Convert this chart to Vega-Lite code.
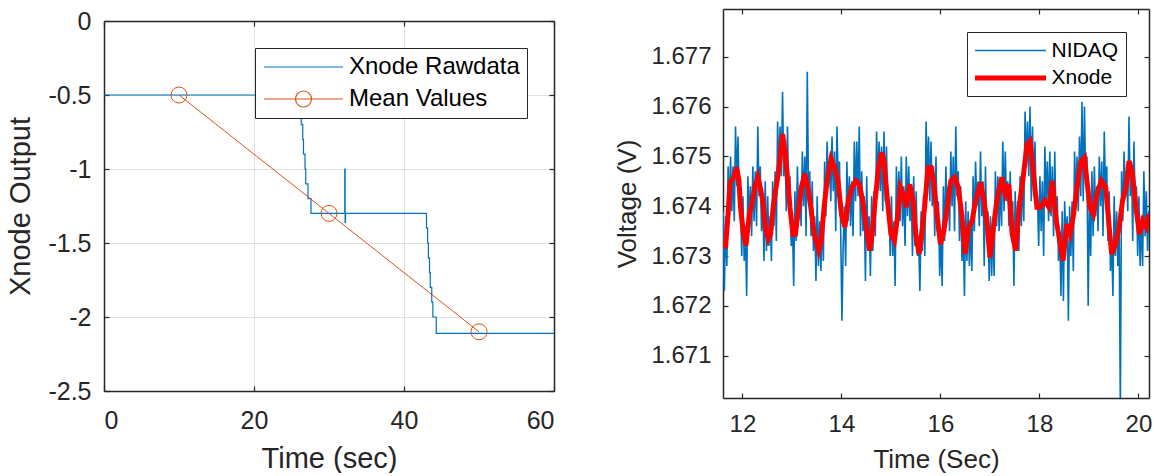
{
"$schema": "https://vega.github.io/schema/vega-lite/v6.json",
"background": "white",
"padding": {"left": 6, "top": 8, "right": 0, "bottom": 0},
"spacing": 59,
"resolve": {"scale": {"color": "independent", "shape": "independent", "strokeWidth": "independent"}, "legend": {"color": "independent", "shape": "independent", "strokeWidth": "independent"}},
"config": {
  "font": "Liberation Sans",
  "concat": {"spacing": 0},
  "view": {"stroke": null},
  "axis": {"labelColor": "#262626", "titleColor": "#262626", "labelFont": "Liberation Sans", "titleFont": "Liberation Sans", "titleFontWeight": "normal", "domainColor": "#262626", "tickColor": "#262626", "domainWidth": 1.5, "tickWidth": 1.2, "tickSize": -5, "grid": false, "zindex": 1},
  "legend": {"labelFont": "Liberation Sans", "labelColor": "#000000", "strokeColor": "#262626", "fillColor": "white", "symbolOpacity": 1, "labelLimit": 400}
},
"datasets": {
  "raw": [{"t":0,"v":-0.5},{"t":26.1,"v":-0.6},{"t":26.3,"v":-0.7},{"t":26.5,"v":-0.8},{"t":26.6,"v":-0.9},{"t":26.8,"v":-1.0},{"t":26.9,"v":-1.1},{"t":27.2,"v":-1.2},{"t":27.6,"v":-1.3},{"t":32.1,"v":-1.0},{"t":32.15,"v":-1.36},{"t":32.2,"v":-1.3},{"t":43.0,"v":-1.4},{"t":43.15,"v":-1.5},{"t":43.25,"v":-1.6},{"t":43.4,"v":-1.7},{"t":43.5,"v":-1.8},{"t":43.7,"v":-1.9},{"t":43.85,"v":-2.0},{"t":44.3,"v":-2.11},{"t":60,"v":-2.11}],
  "mean": [{"t":10,"v":-0.5},{"t":30,"v":-1.3},{"t":50,"v":-2.1}],
  "nidaq": [
{"t":11.610,"v":1.6739},{"t":11.635,"v":1.6723},{"t":11.660,"v":1.6738},{"t":11.685,"v":1.6728},{"t":11.710,"v":1.6748},{"t":11.735,"v":1.6739},{"t":11.760,"v":1.6750},{"t":11.785,"v":1.6739},{"t":11.810,"v":1.6748},{"t":11.835,"v":1.6737},{"t":11.860,"v":1.6756},{"t":11.885,"v":1.6744},{"t":11.910,"v":1.6754},{"t":11.935,"v":1.6741},{"t":11.960,"v":1.6742},{"t":11.985,"v":1.6730},{"t":12.010,"v":1.6742},{"t":12.035,"v":1.6729},{"t":12.060,"v":1.6736},{"t":12.085,"v":1.6722},{"t":12.110,"v":1.6746},{"t":12.135,"v":1.6736},{"t":12.160,"v":1.6744},{"t":12.185,"v":1.6734},
{"t":12.210,"v":1.6748},{"t":12.235,"v":1.6737},{"t":12.260,"v":1.6747},{"t":12.285,"v":1.6736},{"t":12.310,"v":1.6756},{"t":12.335,"v":1.6742},{"t":12.360,"v":1.6748},{"t":12.385,"v":1.6735},{"t":12.410,"v":1.6742},{"t":12.435,"v":1.6729},{"t":12.460,"v":1.6745},{"t":12.485,"v":1.6731},{"t":12.510,"v":1.6742},{"t":12.535,"v":1.6732},{"t":12.560,"v":1.6738},{"t":12.585,"v":1.6729},{"t":12.610,"v":1.6745},{"t":12.635,"v":1.6736},{"t":12.660,"v":1.6747},{"t":12.685,"v":1.6733},{"t":12.710,"v":1.6757},{"t":12.735,"v":1.6747},{"t":12.760,"v":1.6756},{"t":12.785,"v":1.6746},
{"t":12.810,"v":1.6763},{"t":12.835,"v":1.6746},{"t":12.860,"v":1.6753},{"t":12.885,"v":1.6739},{"t":12.910,"v":1.6756},{"t":12.935,"v":1.6741},{"t":12.960,"v":1.6746},{"t":12.985,"v":1.6732},{"t":13.010,"v":1.6737},{"t":13.035,"v":1.6724},{"t":13.060,"v":1.6743},{"t":13.085,"v":1.6733},{"t":13.110,"v":1.6748},{"t":13.135,"v":1.6738},{"t":13.160,"v":1.6744},{"t":13.185,"v":1.6736},{"t":13.210,"v":1.6751},{"t":13.235,"v":1.6740},{"t":13.260,"v":1.6750},{"t":13.285,"v":1.6734},{"t":13.310,"v":1.6767},{"t":13.335,"v":1.6742},{"t":13.360,"v":1.6747},{"t":13.385,"v":1.6734},
{"t":13.410,"v":1.6745},{"t":13.435,"v":1.6731},{"t":13.460,"v":1.6738},{"t":13.485,"v":1.6725},{"t":13.510,"v":1.6742},{"t":13.535,"v":1.6728},{"t":13.560,"v":1.6737},{"t":13.585,"v":1.6727},{"t":13.610,"v":1.6738},{"t":13.635,"v":1.6729},{"t":13.660,"v":1.6749},{"t":13.685,"v":1.6738},{"t":13.710,"v":1.6753},{"t":13.735,"v":1.6744},{"t":13.760,"v":1.6749},{"t":13.785,"v":1.6741},{"t":13.810,"v":1.6754},{"t":13.835,"v":1.6743},{"t":13.860,"v":1.6751},{"t":13.885,"v":1.6735},{"t":13.910,"v":1.6756},{"t":13.935,"v":1.6744},{"t":13.960,"v":1.6749},{"t":13.985,"v":1.6735},
{"t":14.010,"v":1.6717},{"t":14.035,"v":1.6732},{"t":14.060,"v":1.6740},{"t":14.085,"v":1.6728},{"t":14.110,"v":1.6749},{"t":14.135,"v":1.6737},{"t":14.160,"v":1.6746},{"t":14.185,"v":1.6736},{"t":14.210,"v":1.6745},{"t":14.235,"v":1.6734},{"t":14.260,"v":1.6753},{"t":14.285,"v":1.6741},{"t":14.310,"v":1.6753},{"t":14.335,"v":1.6742},{"t":14.360,"v":1.6756},{"t":14.385,"v":1.6734},{"t":14.410,"v":1.6747},{"t":14.435,"v":1.6735},{"t":14.460,"v":1.6742},{"t":14.485,"v":1.6725},{"t":14.510,"v":1.6746},{"t":14.535,"v":1.6732},{"t":14.560,"v":1.6738},{"t":14.585,"v":1.6726},
{"t":14.610,"v":1.6742},{"t":14.635,"v":1.6731},{"t":14.660,"v":1.6743},{"t":14.685,"v":1.6734},{"t":14.710,"v":1.6755},{"t":14.735,"v":1.6744},{"t":14.760,"v":1.6753},{"t":14.785,"v":1.6743},{"t":14.810,"v":1.6752},{"t":14.835,"v":1.6739},{"t":14.860,"v":1.6755},{"t":14.885,"v":1.6741},{"t":14.910,"v":1.6752},{"t":14.935,"v":1.6739},{"t":14.960,"v":1.6741},{"t":14.985,"v":1.6730},{"t":15.010,"v":1.6742},{"t":15.035,"v":1.6730},{"t":15.060,"v":1.6737},{"t":15.085,"v":1.6724},{"t":15.110,"v":1.6748},{"t":15.135,"v":1.6738},{"t":15.160,"v":1.6747},{"t":15.185,"v":1.6737},
{"t":15.210,"v":1.6750},{"t":15.235,"v":1.6736},{"t":15.260,"v":1.6744},{"t":15.285,"v":1.6732},{"t":15.310,"v":1.6750},{"t":15.335,"v":1.6738},{"t":15.360,"v":1.6748},{"t":15.385,"v":1.6737},{"t":15.410,"v":1.6743},{"t":15.435,"v":1.6730},{"t":15.460,"v":1.6746},{"t":15.485,"v":1.6732},{"t":15.510,"v":1.6743},{"t":15.535,"v":1.6730},{"t":15.560,"v":1.6733},{"t":15.585,"v":1.6723},{"t":15.610,"v":1.6739},{"t":15.635,"v":1.6731},{"t":15.660,"v":1.6742},{"t":15.685,"v":1.6730},{"t":15.710,"v":1.6757},{"t":15.735,"v":1.6745},{"t":15.760,"v":1.6754},{"t":15.785,"v":1.6741},
{"t":15.810,"v":1.6753},{"t":15.835,"v":1.6740},{"t":15.860,"v":1.6748},{"t":15.885,"v":1.6734},{"t":15.910,"v":1.6750},{"t":15.935,"v":1.6735},{"t":15.960,"v":1.6741},{"t":15.985,"v":1.6726},{"t":16.010,"v":1.6734},{"t":16.035,"v":1.6724},{"t":16.060,"v":1.6744},{"t":16.085,"v":1.6733},{"t":16.110,"v":1.6748},{"t":16.135,"v":1.6738},{"t":16.160,"v":1.6744},{"t":16.185,"v":1.6735},{"t":16.210,"v":1.6751},{"t":16.235,"v":1.6740},{"t":16.260,"v":1.6750},{"t":16.285,"v":1.6735},{"t":16.310,"v":1.6756},{"t":16.335,"v":1.6742},{"t":16.360,"v":1.6747},{"t":16.385,"v":1.6733},
{"t":16.410,"v":1.6744},{"t":16.435,"v":1.6729},{"t":16.460,"v":1.6736},{"t":16.485,"v":1.6722},{"t":16.510,"v":1.6741},{"t":16.535,"v":1.6729},{"t":16.560,"v":1.6739},{"t":16.585,"v":1.6728},{"t":16.610,"v":1.6737},{"t":16.635,"v":1.6727},{"t":16.660,"v":1.6746},{"t":16.685,"v":1.6735},{"t":16.710,"v":1.6749},{"t":16.735,"v":1.6740},{"t":16.760,"v":1.6745},{"t":16.785,"v":1.6736},{"t":16.810,"v":1.6751},{"t":16.835,"v":1.6738},{"t":16.860,"v":1.6745},{"t":16.885,"v":1.6728},{"t":16.910,"v":1.6748},{"t":16.935,"v":1.6734},{"t":16.960,"v":1.6739},{"t":16.985,"v":1.6725},
{"t":17.010,"v":1.6738},{"t":17.035,"v":1.6726},{"t":17.060,"v":1.6737},{"t":17.085,"v":1.6726},{"t":17.110,"v":1.6747},{"t":17.135,"v":1.6736},{"t":17.160,"v":1.6746},{"t":17.185,"v":1.6735},{"t":17.210,"v":1.6745},{"t":17.235,"v":1.6736},{"t":17.260,"v":1.6753},{"t":17.285,"v":1.6739},{"t":17.310,"v":1.6751},{"t":17.335,"v":1.6741},{"t":17.360,"v":1.6745},{"t":17.385,"v":1.6736},{"t":17.410,"v":1.6747},{"t":17.435,"v":1.6734},{"t":17.460,"v":1.6741},{"t":17.485,"v":1.6724},{"t":17.510,"v":1.6743},{"t":17.535,"v":1.6731},{"t":17.560,"v":1.6741},{"t":17.585,"v":1.6731},
{"t":17.610,"v":1.6746},{"t":17.635,"v":1.6736},{"t":17.660,"v":1.6747},{"t":17.685,"v":1.6737},{"t":17.710,"v":1.6759},{"t":17.735,"v":1.6748},{"t":17.760,"v":1.6757},{"t":17.785,"v":1.6746},{"t":17.810,"v":1.6760},{"t":17.835,"v":1.6741},{"t":17.860,"v":1.6756},{"t":17.885,"v":1.6742},{"t":17.910,"v":1.6753},{"t":17.935,"v":1.6740},{"t":17.960,"v":1.6742},{"t":17.985,"v":1.6732},{"t":18.010,"v":1.6746},{"t":18.035,"v":1.6735},{"t":18.060,"v":1.6745},{"t":18.085,"v":1.6730},{"t":18.110,"v":1.6752},{"t":18.135,"v":1.6741},{"t":18.160,"v":1.6749},{"t":18.185,"v":1.6737},
{"t":18.210,"v":1.6751},{"t":18.235,"v":1.6738},{"t":18.260,"v":1.6748},{"t":18.285,"v":1.6734},{"t":18.310,"v":1.6751},{"t":18.335,"v":1.6736},{"t":18.360,"v":1.6742},{"t":18.385,"v":1.6729},{"t":18.410,"v":1.6735},{"t":18.435,"v":1.6722},{"t":18.460,"v":1.6739},{"t":18.485,"v":1.6721},{"t":18.510,"v":1.6741},{"t":18.535,"v":1.6733},{"t":18.560,"v":1.6738},{"t":18.585,"v":1.6717},{"t":18.610,"v":1.6740},{"t":18.635,"v":1.6730},{"t":18.660,"v":1.6741},{"t":18.685,"v":1.6727},{"t":18.710,"v":1.6751},{"t":18.735,"v":1.6741},{"t":18.760,"v":1.6750},{"t":18.785,"v":1.6739},
{"t":18.810,"v":1.6754},{"t":18.835,"v":1.6742},{"t":18.860,"v":1.6761},{"t":18.885,"v":1.6741},{"t":18.910,"v":1.6760},{"t":18.935,"v":1.6744},{"t":18.960,"v":1.6750},{"t":18.985,"v":1.6720},{"t":19.010,"v":1.6741},{"t":19.035,"v":1.6730},{"t":19.060,"v":1.6747},{"t":19.085,"v":1.6734},{"t":19.110,"v":1.6748},{"t":19.135,"v":1.6738},{"t":19.160,"v":1.6744},{"t":19.185,"v":1.6735},{"t":19.210,"v":1.6750},{"t":19.235,"v":1.6740},{"t":19.260,"v":1.6749},{"t":19.285,"v":1.6734},{"t":19.310,"v":1.6755},{"t":19.335,"v":1.6743},{"t":19.360,"v":1.6748},{"t":19.385,"v":1.6733},
{"t":19.410,"v":1.6743},{"t":19.435,"v":1.6727},{"t":19.460,"v":1.6733},{"t":19.485,"v":1.6722},{"t":19.510,"v":1.6742},{"t":19.535,"v":1.6730},{"t":19.560,"v":1.6739},{"t":19.585,"v":1.6728},{"t":19.610,"v":1.6737},{"t":19.635,"v":1.6699},{"t":19.660,"v":1.6747},{"t":19.685,"v":1.6737},{"t":19.710,"v":1.6751},{"t":19.735,"v":1.6742},{"t":19.760,"v":1.6747},{"t":19.785,"v":1.6739},{"t":19.810,"v":1.6758},{"t":19.835,"v":1.6742},{"t":19.860,"v":1.6749},{"t":19.885,"v":1.6733},{"t":19.910,"v":1.6753},{"t":19.935,"v":1.6739},{"t":19.960,"v":1.6744},{"t":19.985,"v":1.6730},
{"t":20.010,"v":1.6742},{"t":20.035,"v":1.6728},{"t":20.060,"v":1.6738},{"t":20.085,"v":1.6728},{"t":20.110,"v":1.6747},{"t":20.135,"v":1.6734},{"t":20.160,"v":1.6743},{"t":20.185,"v":1.6731},{"t":20.210,"v":1.6739}
  ],
  "xnode": [
{"t":11.61,"v":1.67321},{"t":11.66,"v":1.6732},{"t":11.71,"v":1.67384},{"t":11.75,"v":1.67448},{"t":11.82,"v":1.67458},{"t":11.88,"v":1.67478},{"t":11.93,"v":1.67451},{"t":11.96,"v":1.67398},{"t":12.02,"v":1.67344},{"t":12.07,"v":1.67321},{"t":12.14,"v":1.67384},{"t":12.19,"v":1.67404},{"t":12.25,"v":1.67438},{"t":12.31,"v":1.67458},{"t":12.36,"v":1.67438},{"t":12.41,"v":1.67411},{"t":12.46,"v":1.67358},{"t":12.52,"v":1.67334},{"t":12.57,"v":1.67344},{"t":12.62,"v":1.67398},{"t":12.68,"v":1.67438},{"t":12.74,"v":1.67478},{"t":12.81,"v":1.67545},{"t":12.86,"v":1.67511},{"t":12.91,"v":1.67458},{"t":12.96,"v":1.67398},{"t":13.02,"v":1.67344},{"t":13.07,"v":1.67344},{"t":13.12,"v":1.67384},{"t":13.19,"v":1.67438},{"t":13.26,"v":1.67465},{"t":13.32,"v":1.67438},{"t":13.38,"v":1.67398},{"t":13.45,"v":1.67344},{"t":13.54,"v":1.67311},{"t":13.59,"v":1.67331},{"t":13.65,"v":1.67398},{"t":13.71,"v":1.67451},{"t":13.79,"v":1.67495},{"t":13.86,"v":1.67478},{"t":13.93,"v":1.67451},{"t":14.0,"v":1.67384},{"t":14.07,"v":1.67358},{"t":14.14,"v":1.67411},{"t":14.21,"v":1.67438},{"t":14.29,"v":1.67451},{"t":14.36,"v":1.67444},{"t":14.43,"v":1.67411},{"t":14.5,"v":1.67358},{"t":14.57,"v":1.67311},{"t":14.62,"v":1.67344},{"t":14.68,"v":1.67411},{"t":14.75,"v":1.67478},{"t":14.81,"v":1.67508},{"t":14.86,"v":1.67491},{"t":14.93,"v":1.67411},{"t":15.0,"v":1.67344},{"t":15.07,"v":1.67331},{"t":15.14,"v":1.67384},{"t":15.19,"v":1.67438},{"t":15.25,"v":1.67425},{"t":15.31,"v":1.67398},{"t":15.38,"v":1.67444},{"t":15.45,"v":1.67411},{"t":15.5,"v":1.67344},{"t":15.57,"v":1.67304},{"t":15.62,"v":1.67344},{"t":15.68,"v":1.67398},{"t":15.75,"v":1.67478},{"t":15.81,"v":1.67478},{"t":15.86,"v":1.67451},{"t":15.93,"v":1.67384},{"t":16.0,"v":1.67324},{"t":16.07,"v":1.67351},{"t":16.14,"v":1.67398},{"t":16.21,"v":1.67451},{"t":16.29,"v":1.67458},{"t":16.36,"v":1.67438},{"t":16.43,"v":1.67384},{"t":16.5,"v":1.67304},{"t":16.57,"v":1.67358},{"t":16.64,"v":1.67371},{"t":16.71,"v":1.67411},{"t":16.81,"v":1.67448},{"t":16.88,"v":1.67411},{"t":16.95,"v":1.67358},{"t":17.0,"v":1.67297},{"t":17.07,"v":1.67358},{"t":17.14,"v":1.67411},{"t":17.24,"v":1.67458},{"t":17.31,"v":1.67425},{"t":17.38,"v":1.67444},{"t":17.45,"v":1.67344},{"t":17.52,"v":1.67311},{"t":17.59,"v":1.67398},{"t":17.68,"v":1.67465},{"t":17.75,"v":1.67525},{"t":17.81,"v":1.67531},{"t":17.88,"v":1.67465},{"t":17.95,"v":1.67398},{"t":18.02,"v":1.67398},{"t":18.11,"v":1.67411},{"t":18.19,"v":1.67398},{"t":18.26,"v":1.67451},{"t":18.34,"v":1.67371},{"t":18.41,"v":1.67331},{"t":18.48,"v":1.67291},{"t":18.55,"v":1.67364},{"t":18.62,"v":1.67344},{"t":18.69,"v":1.67384},{"t":18.76,"v":1.67438},{"t":18.84,"v":1.67491},{"t":18.91,"v":1.67498},{"t":18.96,"v":1.67451},{"t":19.02,"v":1.67398},{"t":19.09,"v":1.67384},{"t":19.16,"v":1.67425},{"t":19.25,"v":1.67451},{"t":19.34,"v":1.67438},{"t":19.41,"v":1.67358},{"t":19.46,"v":1.67304},{"t":19.54,"v":1.67324},{"t":19.61,"v":1.67358},{"t":19.68,"v":1.67411},{"t":19.75,"v":1.67438},{"t":19.81,"v":1.67491},{"t":19.88,"v":1.67465},{"t":19.95,"v":1.67398},{"t":20.02,"v":1.67344},{"t":20.09,"v":1.67371},{"t":20.16,"v":1.67358},{"t":20.21,"v":1.67384}
  ]
},
"hconcat": [
  {
    "spacing": -1,
    "resolve": {"scale": {"color": "independent", "shape": "independent"}, "legend": {"color": "independent", "shape": "independent"}},
    "vconcat": [
      {
        "width": 450,
        "height": 0.01,
        "data": {"values": []},
        "mark": {"type": "point"}
      },
      {
        "width": 450,
        "height": 370,
        "resolve": {"axis": {"x": "independent", "y": "independent"}},
        "layer": [
          {
            "data": {"name": "raw"},
            "mark": {"type": "line", "interpolate": "step-after", "color": "#0072BD", "strokeWidth": 1.2, "clip": true},
            "encoding": {
              "x": {"field": "t", "type": "quantitative", "scale": {"domain": [0, 60], "nice": false, "zero": false},
                    "axis": {"values": [0, 20, 40, 60], "title": "Time (sec)", "grid": true, "gridColor": "#dfdfdf", "labelFontSize": 25, "titleFontSize": 29, "labelPadding": 22, "titlePadding": 11}},
              "y": {"field": "v", "type": "quantitative", "scale": {"domain": [-2.5, 0], "nice": false, "zero": false},
                    "axis": {"values": [0, -0.5, -1, -1.5, -2, -2.5], "labelExpr": "toString(datum.value)", "title": "Xnode Output", "grid": true, "gridColor": "#dfdfdf", "labelFontSize": 25, "titleFontSize": 29, "labelPadding": 18, "titlePadding": 12}}
            }
          },
          {
            "data": {"name": "mean"},
            "mark": {"type": "line", "color": "#D95319", "strokeWidth": 1, "point": {"filled": false, "shape": "circle", "size": 256, "stroke": "#D95319", "strokeWidth": 1}},
            "encoding": {
              "x": {"field": "t", "type": "quantitative", "axis": null},
              "y": {"field": "v", "type": "quantitative", "axis": null}
            }
          },
          {
            "data": {"name": "mean"},
            "mark": {"type": "point", "opacity": 0},
            "encoding": {
              "x": {"field": "t", "type": "quantitative", "axis": {"orient": "top", "values": [0, 20, 40, 60], "labels": false, "title": null, "grid": false}},
              "y": {"field": "v", "type": "quantitative", "axis": {"orient": "right", "values": [0, -0.5, -1, -1.5, -2, -2.5], "labels": false, "title": null, "grid": false}}
            }
          },
          {
            "data": {"name": "mean"},
            "mark": {"type": "point", "opacity": 0, "filled": false},
            "encoding": {
              "x": {"field": "t", "type": "quantitative", "axis": null},
              "y": {"field": "v", "type": "quantitative", "axis": null},
              "color": {"datum": "Mean Values", "type": "nominal",
                        "scale": {"domain": ["Xnode Rawdata", "Mean Values"], "range": ["#0072BD", "#D95319"]},
                        "legend": {"title": null, "orient": "top-right", "offset": 27, "labelFontSize": 24, "symbolSize": 400, "symbolStrokeWidth": 1.2, "symbolOffset": 29.5, "labelOffset": 33.5, "padding": 7, "rowPadding": 8, "symbolOpacity": 1}},
              "shape": {"datum": "Mean Values", "type": "nominal",
                        "scale": {"domain": ["Xnode Rawdata", "Mean Values"], "range": ["M-3.95,0L3.95,0", "M-3.95,0L3.95,0M0.8,0A0.8,0.8,0,1,1,-0.8,0A0.8,0.8,0,1,1,0.8,0"]},
                        "legend": {"title": null, "orient": "top-right", "offset": 27, "labelFontSize": 24, "symbolSize": 400, "symbolStrokeWidth": 1.2, "symbolOffset": 29.5, "labelOffset": 33.5, "padding": 7, "rowPadding": 8, "symbolOpacity": 1}}
            }
          }
        ]
      }
    ]
  },
  {
    "width": 426,
    "height": 389,
    "resolve": {"axis": {"x": "independent", "y": "independent"}},
    "layer": [
      {
        "data": {"name": "nidaq"},
        "mark": {"type": "line", "clip": true},
        "encoding": {
          "x": {"field": "t", "type": "quantitative", "scale": {"domain": [11.607, 20.214], "nice": false, "zero": false},
                "axis": {"values": [12, 14, 16, 18, 20], "title": "Time (Sec)", "labelFontSize": 24, "titleFontSize": 26, "labelPadding": 19, "titlePadding": 10}},
          "y": {"field": "v", "type": "quantitative", "scale": {"domain": [1.67015, 1.67796], "nice": false, "zero": false},
                "axis": {"values": [1.671, 1.672, 1.673, 1.674, 1.675, 1.676, 1.677], "format": ".3f", "title": "Voltage (V)", "labelFontSize": 24, "titleFontSize": 26, "labelPadding": 17, "titlePadding": 10}},
          "color": {"datum": "NIDAQ", "type": "nominal", "scale": {"domain": ["NIDAQ", "Xnode"], "range": ["#0072BD", "#FF0000"]},
                    "legend": {"title": null, "orient": "top-right", "offset": 23, "labelFontSize": 21, "symbolType": "M-3.55,0L3.55,0", "symbolSize": 400, "symbolOffset": 23.5, "labelOffset": 28.5, "padding": 7.5, "rowPadding": 5}},
          "strokeWidth": {"datum": "NIDAQ", "type": "ordinal", "scale": {"domain": ["NIDAQ", "Xnode"], "range": [1.6, 5]},
                    "legend": {"title": null, "orient": "top-right", "offset": 23, "labelFontSize": 21, "symbolType": "M-3.55,0L3.55,0", "symbolSize": 400, "symbolOffset": 23.5, "labelOffset": 28.5, "padding": 7.5, "rowPadding": 5}}
        }
      },
      {
        "data": {"name": "xnode"},
        "mark": {"type": "line", "clip": true},
        "encoding": {
          "x": {"field": "t", "type": "quantitative", "axis": null},
          "y": {"field": "v", "type": "quantitative", "axis": null},
          "color": {"datum": "Xnode", "type": "nominal"},
          "strokeWidth": {"datum": "Xnode", "type": "ordinal"}
        }
      },
      {
        "data": {"name": "xnode"},
        "mark": {"type": "point", "opacity": 0},
        "encoding": {
          "x": {"field": "t", "type": "quantitative", "axis": {"orient": "top", "values": [12, 14, 16, 18, 20], "labels": false, "title": null}},
          "y": {"field": "v", "type": "quantitative", "axis": {"orient": "right", "values": [1.671, 1.672, 1.673, 1.674, 1.675, 1.676, 1.677], "labels": false, "title": null}}
        }
      }
    ]
  }
]
}
